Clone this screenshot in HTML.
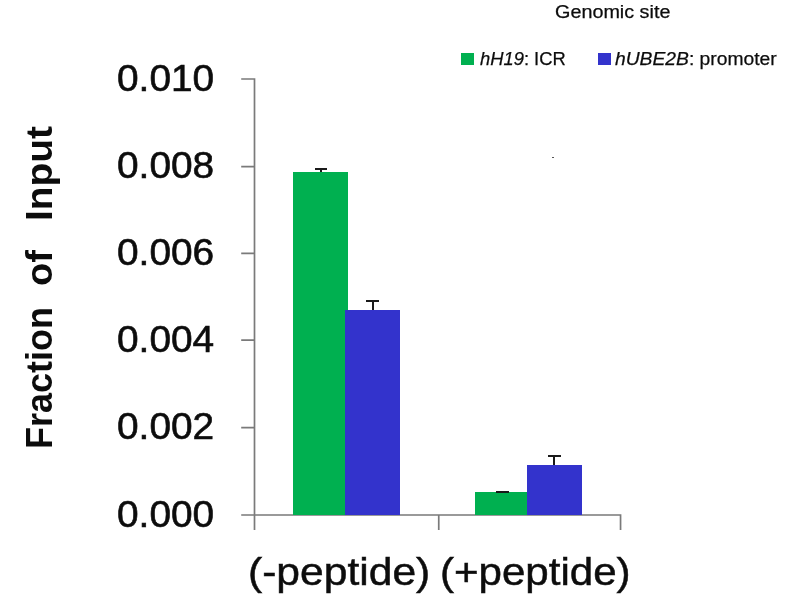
<!DOCTYPE html>
<html lang="en">
<head>
<meta charset="utf-8">
<title>Fraction of Input chart</title>
<style>
html,body{margin:0;padding:0;background:#fff;}
body{width:800px;height:600px;position:relative;overflow:hidden;font-family:"Liberation Sans",sans-serif;color:#0c0c0c;}
.abs{position:absolute;}
.t{position:absolute;white-space:nowrap;line-height:1;transform-origin:0 0;}
.ax{position:absolute;background:#7f7f7f;}
.g{position:absolute;background:#00b050;}
.b{position:absolute;background:#3333cc;}
.e{position:absolute;background:#1a1a1a;}
.yl{font-size:37px;left:116.6px;transform:scaleX(1.05);-webkit-text-stroke:0.6px #111;}
</style>
</head>
<body>
<!-- title + legend -->
<div class="t" id="title" style="-webkit-text-stroke:0.25px #111;left:555px;top:4px;font-size:17.5px;transform:scaleX(1.13);">Genomic site</div>
<div class="g" style="left:461.4px;top:52.8px;width:13.1px;height:12.6px;"></div>
<div class="t" id="leg1" style="-webkit-text-stroke:0.25px #111;left:480px;top:50px;font-size:18px;transform:scaleX(1.02);"><i>hH19</i>: ICR</div>
<div class="b" style="left:598.2px;top:52.8px;width:12.7px;height:12.5px;"></div>
<div class="t" id="leg2" style="-webkit-text-stroke:0.25px #111;left:615px;top:50px;font-size:18px;transform:scaleX(1.07);"><i>hUBE2B</i>: promoter</div>

<!-- y axis label -->
<div class="t" id="ylab" style="left:21.9px;top:447px;font-size:36.6px;font-weight:bold;transform:rotate(-90deg);width:330px;height:36px;">
<span class="t" style="left:-2px;top:0;transform:scaleX(0.984);">Fraction</span> <span class="t" style="left:161px;top:0;transform:scaleX(1.043);">of</span> <span class="t" style="left:226px;top:0;transform:scaleX(1.063);">Input</span></div>

<!-- y tick labels -->
<div class="t yl" id="y5" style="top:59.8px;">0.010</div>
<div class="t yl" id="y4" style="top:147px;">0.008</div>
<div class="t yl" id="y3" style="top:234px;">0.006</div>
<div class="t yl" id="y2" style="top:321px;">0.004</div>
<div class="t yl" id="y1" style="top:407.6px;">0.002</div>
<div class="t yl" id="y0" style="top:496px;">0.000</div>

<!-- axes -->
<svg class="abs" style="left:0;top:0;" width="800" height="600" viewBox="0 0 800 600">
<path d="M254.5 78.2V530 M241.2 79H255.3 M241.2 166.6H254.5 M241.2 253.3H254.5 M241.2 340.1H254.5 M241.2 427.6H254.5 M241.2 515H621.4 M438.75 515V530 M620.55 515V530" fill="none" stroke="#7a7a7a" stroke-width="1.7"/>
</svg>

<!-- bars group 1 -->
<div class="g" style="left:293.2px;top:171.8px;width:54.8px;height:343.2px;"></div>
<div class="b" style="left:345.3px;top:309.6px;width:54.7px;height:205.4px;"></div>
<!-- bars group 2 -->
<div class="g" style="left:475px;top:491.8px;width:53px;height:23.2px;"></div>
<div class="b" style="left:527px;top:464.8px;width:54.5px;height:50.2px;"></div>

<!-- error bars -->
<div class="e" style="left:315px;top:168px;width:12px;height:2px;"></div>
<div class="e" style="left:320px;top:168px;width:2px;height:4px;"></div>
<div class="e" style="left:366px;top:300px;width:13px;height:2px;"></div>
<div class="e" style="left:372px;top:300px;width:2px;height:10px;"></div>
<div class="e" style="left:496px;top:491px;width:13px;height:2px;"></div>
<div class="e" style="left:548px;top:455px;width:13px;height:2px;"></div>
<div class="e" style="left:553px;top:455px;width:2px;height:10px;"></div>

<!-- stray dot -->
<div class="abs" style="left:552px;top:157px;width:2px;height:1px;background:#555;"></div>

<!-- x labels -->
<div class="t" id="x1" style="-webkit-text-stroke:0.5px #111;left:248px;top:551.5px;font-size:39.5px;transform:scaleX(1.078);">(-peptide)</div>
<div class="t" id="x2" style="-webkit-text-stroke:0.5px #111;left:440px;top:551.5px;font-size:39.5px;transform:scaleX(1.065);">(+peptide)</div>
</body>
</html>
